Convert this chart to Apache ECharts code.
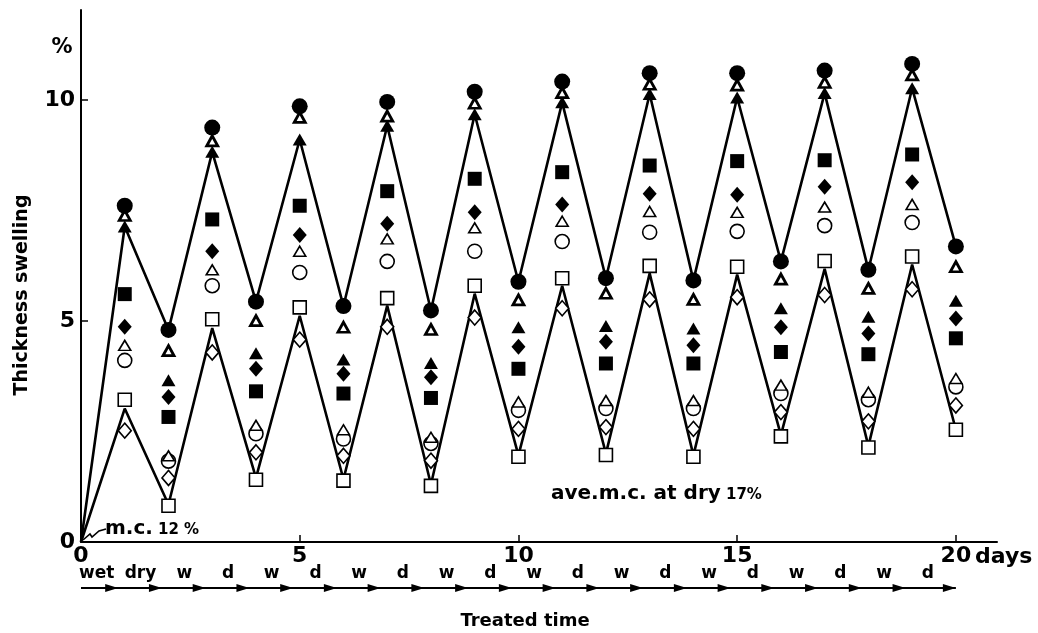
<!DOCTYPE html>
<html>
<head>
<meta charset="utf-8">
<script src="https://cdn.jsdelivr.net/npm/echarts@6/dist/echarts.min.js"></script>
<style>
  html, body { margin: 0; padding: 0; background: #fff; }
  #chart { width: 1038px; height: 633px; }
</style>
</head>
<body>
<div id="chart"></div>
<script>
// Treatment days (one wet or dry step per day)
const days = [1, 2, 3, 4, 5, 6, 7, 8, 9, 10, 11, 12, 13, 14, 15, 16, 17, 18, 19, 20];
const lineDays = [0, 1, 2, 3, 4, 5, 6, 7, 8, 9, 10, 11, 12, 13, 14, 15, 16, 17, 18, 19, 20];

// Thickness swelling (%) per specimen type
const filledCircle   = [7.61, 4.80, 9.38, 5.44, 9.86, 5.34, 9.96, 5.24, 10.19, 5.89, 10.42, 5.97, 10.61, 5.92, 10.61, 6.35, 10.67, 6.16, 10.82, 6.69];
const boldTriangle   = [7.39, 4.33, 9.08, 5.01, 9.61, 4.86, 9.64, 4.81, 9.93, 5.48, 10.17, 5.63, 10.36, 5.49, 10.34, 5.95, 10.40, 5.74, 10.57, 6.23];
const filledTriangle = [7.14, 3.66, 8.83, 4.27, 9.11, 4.13, 9.42, 4.05, 9.68, 4.86, 9.95, 4.89, 10.14, 4.83, 10.06, 5.29, 10.16, 5.10, 10.27, 5.46];
const filledSquare   = [5.61, 2.83, 7.30, 3.41, 7.61, 3.36, 7.94, 3.26, 8.22, 3.92, 8.37, 4.04, 8.52, 4.04, 8.62, 4.30, 8.64, 4.25, 8.77, 4.61];
const filledDiamond  = [4.87, 3.28, 6.58, 3.92, 6.95, 3.81, 7.20, 3.73, 7.46, 4.42, 7.64, 4.53, 7.88, 4.45, 7.86, 4.86, 8.04, 4.72, 8.14, 5.06];
const openTriangle   = [4.45, 1.95, 6.16, 2.64, 6.58, 2.54, 6.86, 2.37, 7.11, 3.17, 7.26, 3.20, 7.48, 3.20, 7.46, 3.55, 7.58, 3.39, 7.64, 3.70];
const openCircle     = [4.11, 1.83, 5.80, 2.45, 6.10, 2.33, 6.35, 2.23, 6.58, 2.98, 6.80, 3.02, 7.01, 3.02, 7.03, 3.36, 7.16, 3.22, 7.23, 3.51];
const openSquare     = [3.22, 0.82, 5.04, 1.41, 5.31, 1.39, 5.52, 1.27, 5.80, 1.93, 5.97, 1.97, 6.25, 1.93, 6.23, 2.39, 6.36, 2.14, 6.46, 2.54];
const openDiamond    = [2.52, 1.45, 4.29, 2.03, 4.58, 1.95, 4.87, 1.84, 5.08, 2.56, 5.29, 2.60, 5.49, 2.56, 5.54, 2.94, 5.59, 2.73, 5.72, 3.09];

// Upper and lower zig-zag curves
const upperLine = [0, 7.14, 4.80, 8.83, 5.44, 9.11, 5.34, 9.42, 5.24, 9.68, 5.89, 9.95, 5.97, 10.14, 5.92, 10.06, 6.35, 10.16, 6.16, 10.27, 6.69];
const lowerLine = [0, 3.02, 0.85, 4.84, 1.45, 5.12, 1.42, 5.35, 1.30, 5.62, 1.96, 5.80, 2.00, 6.08, 1.96, 6.05, 2.42, 6.18, 2.17, 6.28, 2.54];

// Axis ticks and the wet/dry schedule under the time axis
const xTicks = [0, 5, 10, 15, 20];
const yTicks = [0, 5, 10];
const phaseLabels = ['wet', 'dry', 'w', 'd', 'w', 'd', 'w', 'd', 'w', 'd', 'w', 'd', 'w', 'd', 'w', 'd', 'w', 'd', 'w', 'd'];

const FONT = 'DejaVu Sans';
const INK = '#000';

const pairs = (xs, ys) => xs.map((x, i) => [x, ys[i]]);

function markers(name, values, symbol, size, filled, borderWidth) {
  return {
    name, type: 'scatter', data: pairs(days, values),
    symbol, symbolSize: size,
    itemStyle: filled
      ? { color: INK, borderWidth: 0, opacity: 1 }
      : { color: '#fff', borderColor: INK, borderWidth: borderWidth || 1.6, opacity: 1 },
    emphasis: { disabled: true },
    z: 3
  };
}

function zigzag(name, values) {
  return {
    name, type: 'line', data: pairs(lineDays, values),
    symbol: 'none', lineStyle: { color: INK, width: 2.6 },
    emphasis: { disabled: true }, z: 2
  };
}

const chart = echarts.init(document.getElementById('chart'), null, { renderer: 'canvas' });

chart.setOption({
  animation: false,
  backgroundColor: '#fff',
  grid: { left: 81, right: 41, top: 10, bottom: 91 },
  xAxis: {
    type: 'value', min: 0, max: 20.94,
    axisLine: { show: true, lineStyle: { color: INK, width: 2 } },
    axisTick: { show: true, inside: true, length: 7, lineStyle: { color: INK, width: 1.5 }, customValues: [5, 10, 15, 20] },
    axisLabel: { customValues: xTicks, color: INK, fontFamily: FONT, fontWeight: 'bold', fontSize: 22, margin: 3 },
    splitLine: { show: false }
  },
  yAxis: {
    type: 'value', min: 0, max: 12.04,
    axisLine: { show: true, lineStyle: { color: INK, width: 2 } },
    axisTick: { show: true, inside: true, length: 7, lineStyle: { color: INK, width: 1.5 }, customValues: [5, 10] },
    axisLabel: { customValues: yTicks, color: INK, fontFamily: FONT, fontWeight: 'bold', fontSize: 22, margin: 6 },
    splitLine: { show: false }
  },
  series: [
    zigzag('upper', upperLine),
    zigzag('lower', lowerLine),
    markers('open diamond', openDiamond, 'diamond', [13, 15], false),
    markers('open square', openSquare, 'rect', [13, 13], false),
    markers('open circle', openCircle, 'circle', 14, false),
    markers('open triangle', openTriangle, 'triangle', [12, 10], false),
    markers('filled diamond', filledDiamond, 'diamond', [14, 16], true),
    markers('filled square', filledSquare, 'rect', [14, 14], true),
    markers('filled triangle', filledTriangle, 'triangle', [14, 12], true),
    markers('bold triangle', boldTriangle, 'triangle', [11, 10], false, 2.8),
    markers('filled circle', filledCircle, 'circle', 16, true)
  ]
});

// Annotations positioned from data coordinates
const px = (x, y) => chart.convertToPixel({ gridIndex: 0 }, [x, y]);
const boldText = (x, y, text, size, extra) => ({
  type: 'text', x, y,
  style: Object.assign({ text, fill: INK, fontFamily: FONT, fontWeight: 'bold', fontSize: size, align: 'left', verticalAlign: 'middle' }, extra || {}),
  z: 10
});

const graphics = [];
const origin = px(0, 0);

// Unit and axis titles
graphics.push(boldText(62, 48, '%', 21, { align: 'center' }));
graphics.push(Object.assign(boldText(0, 0, 'Thickness swelling', 19, { align: 'center' }), { x: 22, y: 295, rotation: Math.PI / 2 }));
graphics.push(boldText(975, 557, 'days', 22));
graphics.push(boldText(525, 621, 'Treated time', 18, { align: 'center' }));

// Moisture content notes
graphics.push(boldText(105, 529, 'm.c.', 20));
graphics.push(boldText(158, 530, '12 %', 15));
graphics.push({
  type: 'polyline', z: 10,
  shape: { points: [[origin[0] + 2, origin[1] - 2], [origin[0] + 9, origin[1] - 8], [origin[0] + 11, origin[1] - 5], [origin[0] + 18, origin[1] - 11], [origin[0] + 25, origin[1] - 13]] },
  style: { stroke: INK, lineWidth: 1.6, fill: null }
});
graphics.push(boldText(551, 494, 'ave.m.c. at dry', 20));
graphics.push(boldText(726, 495, '17%', 15));

// Wet/dry schedule with arrows
const arrowY = 588;
const start = px(0, 0)[0];
const end = px(20, 0)[0];
graphics.push({ type: 'line', z: 10, shape: { x1: start, y1: arrowY, x2: end, y2: arrowY }, style: { stroke: INK, lineWidth: 2 } });
phaseLabels.forEach((label, k) => {
  const cx = px(k + 0.36, 0)[0];
  graphics.push(boldText(cx, 582, label, 17, { align: 'center', verticalAlign: 'bottom' }));
  const tip = px(k === phaseLabels.length - 1 ? 20 : k + 0.85, 0)[0];
  graphics.push({
    type: 'polygon', z: 10,
    shape: { points: [[tip, arrowY], [tip - 13, arrowY - 4], [tip - 13, arrowY + 4]] },
    style: { fill: INK }
  });
});

chart.setOption({ graphic: graphics });
</script>
</body>
</html>
